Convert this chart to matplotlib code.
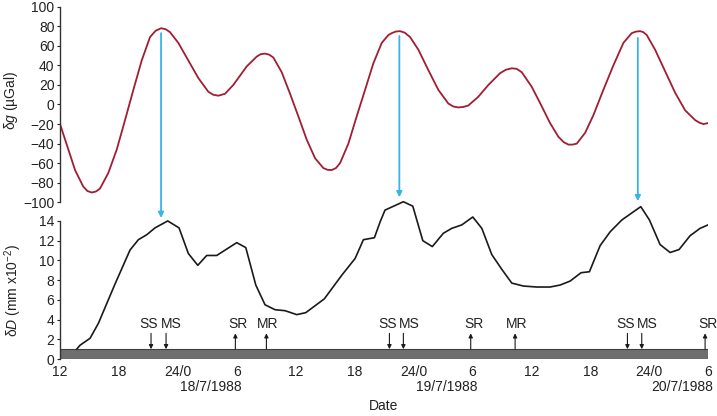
import matplotlib
matplotlib.use("Agg")
import matplotlib.pyplot as plt
from matplotlib.patches import Rectangle, ConnectionPatch

plt.rcParams['font.family'] = ['Liberation Sans', 'DejaVu Sans']
plt.rcParams['mathtext.fontset'] = 'custom'
plt.rcParams['mathtext.rm'] = 'Liberation Sans'
plt.rcParams['mathtext.it'] = 'Liberation Sans:italic'

# hours since 12:00 on 17/7/1988
grav_t = [0.0, 0.85, 1.53, 2.37, 2.8, 3.23, 3.65, 4.07, 4.92, 5.78, 6.62, 7.47, 8.32,
          9.17, 9.75, 10.29, 10.75, 11.2, 12.05, 13.07, 14.09, 15.11, 15.6, 16.13,
          16.81, 17.65, 19.02, 20.04, 20.45, 20.88, 21.3, 21.73, 22.58, 23.43, 24.27,
          25.13, 25.98, 26.82, 27.25, 27.68, 28.1, 28.52, 29.37, 30.22, 31.07, 31.91,
          32.77, 33.44, 33.79, 34.2, 34.63, 35.1, 35.65, 36.5, 37.52, 38.53, 39.55,
          40.05, 40.57, 41.08, 41.59, 42.61, 43.63, 44.82, 45.4, 46.01, 46.5, 47.03,
          48.05, 49.07, 49.91, 50.76, 51.3, 51.78, 52.2, 52.63, 53.48, 54.32, 55.34,
          56.36, 57.38, 58.23, 58.65, 59.08, 59.4, 59.76, 60.61, 61.63, 62.65, 63.67,
          64.69, 65.1, 65.53, 66.0]
grav_val = [-20, -46, -67, -84, -88.5, -90, -89, -86, -70, -46, -16, 15, 45,
            69, 75.5, 78, 77, 74, 63, 45, 27, 13, 10, 9,
            11, 20, 39, 49, 51.5, 52, 51, 48, 33, 11, -12,
            -36, -55, -65, -66.8, -67, -65, -60, -40, -12, 15, 42,
            63, 71, 73, 74.6, 75, 73.5, 69, 56, 35, 15, 1,
            -2, -3, -2.5, -1, 8, 20, 32, 35.5, 37, 36.5, 33,
            18, -2, -19, -33, -38.5, -41, -41, -40, -29, -11, 15,
            40, 63, 73, 74.5, 75, 74, 71, 56, 34, 12, -6,
            -16, -18.5, -20, -19]

disp_t = [1.70, 2.04, 3.06, 3.90, 5.60, 7.13, 7.98, 8.83, 9.68, 10.97, 12.12,
          13.07, 14.03, 14.94, 15.96, 18.0, 18.92, 19.94, 20.88, 21.90, 22.92,
          24.11, 25.03, 26.92, 28.70, 30.06, 30.90, 32.02, 32.6, 33.1, 34.97,
          35.93, 36.95, 37.92, 39.04, 39.90, 40.92, 42.04, 42.96, 43.97, 44.99,
          46.01, 47.19, 48.56, 49.91, 50.93, 51.95, 53.07, 53.92, 55.01, 56.03,
          57.22, 59.15, 60.03, 61.12, 62.14, 63.05, 64.17, 65.19, 66.0]
disp_val = [1.0, 1.4, 2.1, 3.6, 7.6, 11.05, 12.1, 12.6, 13.3, 14.0, 13.3,
            10.7, 9.5, 10.5, 10.5, 11.8, 11.3, 7.5, 5.5, 5.0, 4.9,
            4.5, 4.7, 6.1, 8.5, 10.2, 12.1, 12.3, 13.9, 15.1, 15.95,
            15.5, 12.0, 11.4, 12.75, 13.25, 13.6, 14.4, 13.25, 10.6, 9.1,
            7.7, 7.4, 7.3, 7.3, 7.5, 7.9, 8.75, 8.85, 11.5, 12.9,
            14.1, 15.45, 14.1, 11.6, 10.8, 11.1, 12.5, 13.25, 13.6]

# sun/moon set and rise events
event_t = [9.27, 10.8, 17.86, 21.02, 33.55, 34.97, 41.83, 46.35, 57.79, 59.25, 65.7]
event_lab = ['SS', 'MS', 'SR', 'MR', 'SS', 'MS', 'SR', 'MR', 'SS', 'MS', 'SR']

# cyan arrows linking gravity peaks to displacement peaks
link_t = [10.29, 34.56, 58.85]
link_from = [73, 70, 68]
link_to = [14.3, 16.4, 16.0]

tick_hours = list(range(0, 67, 6))
tick_labels = ['12', '18', '24/0', '6', '12', '18', '24/0', '6', '12', '18', '24/0', '6']
date_hours = [18, 42, 66]
date_labels = ['18/7/1988', '19/7/1988', '20/7/1988']

red = '#a11d33'
cyan = '#3ab4e6'
spine_c = '#333333'
txt_c = '#222222'
fs = 10

fig = plt.figure(figsize=(7.17, 4.16), dpi=100)
ax1 = fig.add_axes([0.0837, 0.5137, 0.9038, 0.4702])
ax2 = fig.add_axes([0.0837, 0.1370, 0.9038, 0.3935])
for ax in (ax1, ax2):
    ax.patch.set_visible(False)
    for s in ('top', 'right', 'bottom'):
        ax.spines[s].set_visible(False)
    ax.spines['left'].set_color(spine_c)
    ax.spines['left'].set_linewidth(1.0)
    ax.set_xlim(0, 66)
    ax.tick_params(axis='y', length=2.5, width=0.8, pad=1.5, labelsize=fs, colors=txt_c)

# gravity panel
ax1.plot(grav_t, grav_val, color=red, lw=1.3, solid_joinstyle='round')
ax1.set_ylim(-100, 100)
ax1.set_yticks(range(-100, 101, 20))
ax1.xaxis.set_visible(False)
ax1.set_ylabel('δ$g$ (µGal)', fontsize=fs, color=txt_c)
ax1.yaxis.set_label_coords(-0.062, 0.52)

# displacement panel
ax2.plot(disp_t, disp_val, color='#1a1a1a', lw=1.2)
ax2.add_patch(Rectangle((0, 0), 66, 1, facecolor='#6e6e6e', edgecolor='#404040', lw=0.8))
ax2.set_ylim(0, 16.6)
ax2.spines['left'].set_bounds(0, 14)
ax2.set_yticks(range(0, 15, 2))
ax2.set_xticks(tick_hours)
ax2.set_xticklabels(tick_labels)
ax2.tick_params(axis='x', length=0, pad=4, labelsize=fs, colors=txt_c)
ax2.set_ylabel('δ$D$ (mm x10$^{-2}$)', fontsize=fs, color=txt_c)
ax2.yaxis.set_label_coords(-0.056, 0.42)
ax2.set_xlabel('Date', fontsize=fs, labelpad=15, color=txt_c)

for t, lab in zip(date_hours, date_labels):
    ax2.annotate(lab, xy=(t, 0), xycoords='data', xytext=(3.5, -20),
                 textcoords='offset points', ha='right', va='center', fontsize=fs, color=txt_c)

label_shift = {'SS': -1.5, 'MS': 4.0, 'SR': 2.0, 'MR': 1.0}
for t, lab in zip(event_t, event_lab):
    if lab in ('SS', 'MS'):
        start, end = 2.6, 1.0
    else:
        start, end = 1.0, 2.6
    ax2.annotate('', xy=(t, end), xytext=(t, start),
                 arrowprops=dict(arrowstyle='-|>', color='#1a1a1a', lw=0.8,
                                 mutation_scale=6, shrinkA=0, shrinkB=0))
    ax2.annotate(lab, xy=(t, 3.5), xytext=(label_shift[lab], 0), textcoords='offset points',
                 ha='center', va='center', fontsize=fs, color=txt_c)

for t, a, b in zip(link_t, link_from, link_to):
    con = ConnectionPatch(xyA=(t, a), coordsA=ax1.transData, xyB=(t, b), coordsB=ax2.transData,
                          arrowstyle='-|>', color=cyan, lw=1.3, mutation_scale=8,
                          shrinkA=0, shrinkB=0)
    fig.add_artist(con)

fig.savefig('out.png', dpi=100)
